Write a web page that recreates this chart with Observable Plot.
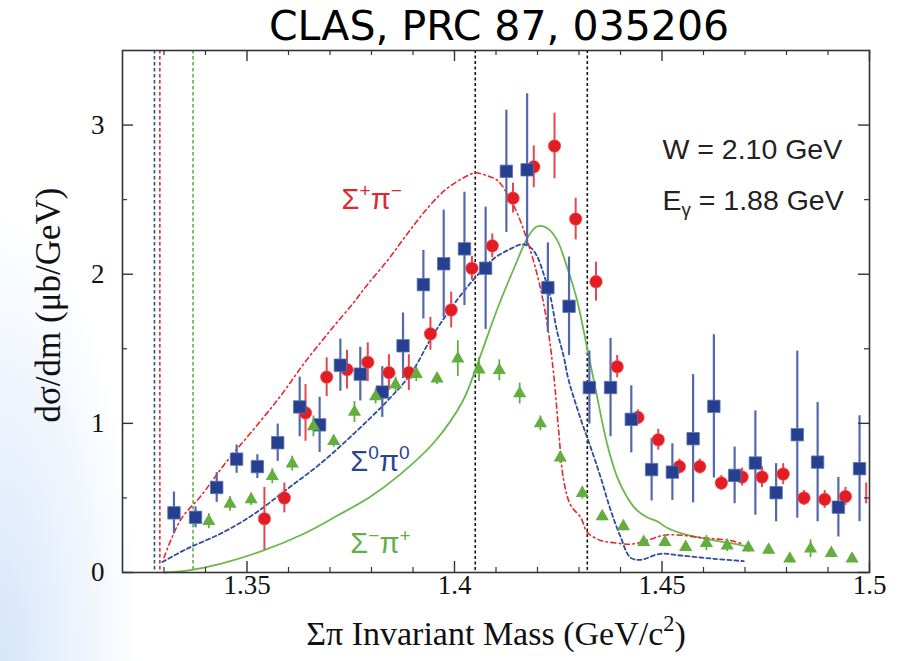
<!DOCTYPE html>
<html>
<head>
<meta charset="utf-8">
<script src="https://cdn.jsdelivr.net/npm/d3@7"></script>
<script src="https://cdn.jsdelivr.net/npm/@observablehq/plot@0.6"></script>
<style>
  html, body { margin: 0; padding: 0; }
  body {
    width: 904px; height: 661px; overflow: hidden;
    background: radial-gradient(ellipse 140px 450px at 0px 661px, #d6e5fa 0%, rgba(255,255,255,0) 100%), #ffffff;
  }
  #chart svg { display: block; }
</style>
</head>
<body>
<div id="chart"></div>
<script>
// ---------- data ----------
const titleText = "CLAS, PRC 87, 035206";
const xLabelText = "Σπ Invariant Mass (GeV/c^{2})";
const yLabelText = "dσ/dm (μb/GeV)";

// Σ+π− (red circles)
const redMass  = [1.3542,1.3590,1.3641,1.3692,1.3741,1.3791,1.3842,1.3890,1.3942,1.3992,1.4042,1.4091,1.4141,1.4191,1.4241,1.4292,1.4341,1.4392,1.4442,1.4491,1.4542,1.4591,1.4643,1.4693,1.4741,1.4792,1.4842,1.4892,1.4942,1.4992];
const redValue = [0.36,0.50,1.07,1.31,1.36,1.41,1.34,1.34,1.60,1.76,2.04,2.19,2.51,2.72,2.86,2.37,1.95,1.38,1.04,0.89,0.71,0.71,0.60,0.64,0.64,0.66,0.50,0.49,0.51,0.53];
const redError = [0.21,0.10,0.19,0.13,0.13,0.13,0.12,0.12,0.11,0.12,0.08,0.08,0.10,0.14,0.22,0.14,0.13,0.075,0.05,0.07,0.05,0.05,0.05,0.06,0.07,0.07,0.05,0.06,0.06,0.07];

// Σ0π0 (blue squares)
const blueMass  = [1.3324,1.3376,1.3427,1.3475,1.3525,1.3574,1.3627,1.3675,1.3725,1.3773,1.3826,1.3876,1.3925,1.3974,1.4024,1.4075,1.4125,1.4175,1.4225,1.4276,1.4325,1.4376,1.4426,1.4475,1.4525,1.4575,1.4625,1.4675,1.4725,1.4775,1.4826,1.4875,1.4925,1.4976];
const blueValue = [0.40,0.37,0.57,0.76,0.71,0.87,1.11,0.99,1.39,1.33,1.21,1.52,1.93,2.07,2.17,2.04,2.69,2.70,1.91,1.785,1.24,1.24,1.027,0.69,0.673,0.897,1.114,0.651,0.734,0.535,0.924,0.74,0.438,0.696];
const blueError = [0.14,0.07,0.10,0.095,0.08,0.125,0.20,0.185,0.175,0.18,0.17,0.22,0.23,0.36,0.38,0.41,0.41,0.51,0.30,0.33,0.245,0.33,0.225,0.21,0.19,0.43,0.48,0.19,0.35,0.195,0.56,0.40,0.20,0.355];

// Σ−π+ (green triangles)
const greenMass  = [1.3408,1.3459,1.3510,1.3561,1.3609,1.3660,1.3709,1.3759,1.3810,1.3858,1.3908,1.3958,1.4008,1.4059,1.4108,1.4157,1.4207,1.4255,1.4308,1.4356,1.4407,1.4456,1.4507,1.4557,1.4607,1.4657,1.4708,1.4757,1.4808,1.4858,1.4908,1.4958];
const greenValue = [0.344,0.46,0.49,0.646,0.73,0.98,0.88,1.076,1.18,1.26,1.33,1.30,1.434,1.36,1.356,1.20,1.00,0.77,0.532,0.376,0.309,0.203,0.203,0.17,0.197,0.18,0.166,0.152,0.092,0.159,0.13,0.092];
const greenError = [0.05,0.05,0.04,0.05,0.05,0.07,0.04,0.07,0.05,0.05,0.05,0.04,0.12,0.08,0.07,0.07,0.05,0.04,0.04,0.03,0.03,0.03,0.03,0.03,0.05,0.04,0.03,0.03,0.02,0.06,0.03,0.02];

// model curves
const redCurveMass  = [1.3300,1.3320,1.3344,1.3388,1.3450,1.3516,1.3580,1.3637,1.3700,1.3757,1.3790,1.3838,1.3886,1.3934,1.3982,1.4031,1.4051,1.4079,1.4103,1.4127,1.4151,1.4175,1.4199,1.4215,1.4227,1.4239,1.4251,1.4263,1.4280,1.4304,1.4320,1.4352,1.4384,1.4424,1.4464,1.4504,1.4545,1.4585,1.4625,1.4665,1.4697];
const redCurveValue = [0.10,0.24,0.37,0.51,0.74,0.96,1.18,1.40,1.62,1.81,1.93,2.09,2.27,2.44,2.575,2.66,2.68,2.66,2.63,2.54,2.41,2.23,2.00,1.80,1.60,1.33,0.95,0.62,0.45,0.37,0.27,0.215,0.20,0.19,0.215,0.25,0.25,0.237,0.226,0.215,0.19];

const blueCurveMass  = [1.3296,1.3356,1.3436,1.3516,1.3597,1.3677,1.3757,1.3838,1.3894,1.3950,1.4007,1.4051,1.4095,1.4135,1.4163,1.4183,1.4199,1.4215,1.4231,1.4247,1.4263,1.4275,1.4304,1.4328,1.4352,1.4376,1.4400,1.4424,1.4448,1.4496,1.4545,1.4625,1.4697];
const blueCurveValue = [0.07,0.16,0.26,0.39,0.56,0.73,0.93,1.15,1.33,1.60,1.83,1.98,2.105,2.17,2.20,2.18,2.12,2.00,1.85,1.62,1.45,1.29,1.03,0.84,0.64,0.42,0.24,0.10,0.085,0.125,0.114,0.092,0.076];

const greenCurveMass  = [1.3300,1.3356,1.3436,1.3540,1.3637,1.3717,1.3798,1.3870,1.3950,1.4020,1.4058,1.4105,1.4145,1.4177,1.4199,1.4223,1.4247,1.4271,1.4295,1.4320,1.4337,1.4368,1.4392,1.4416,1.4440,1.4464,1.4488,1.4512,1.4545,1.4585,1.4625,1.4665,1.4705];
const greenCurveValue = [0.0,0.013,0.058,0.148,0.26,0.38,0.51,0.66,0.87,1.15,1.42,1.78,2.05,2.25,2.32,2.31,2.23,2.05,1.83,1.50,1.27,0.86,0.64,0.505,0.416,0.37,0.344,0.30,0.264,0.237,0.215,0.197,0.175];

// thresholds (Σ0π0, Σ+π−, Σ−π+) and Λ(1405)-region markers
const thresholdMass   = [1.3277, 1.3290, 1.3370];
const thresholdColor  = ["#2f4b9b", "#e3262c", "#5fb042"];
const markerLineMass  = [1.405, 1.432];

// axis ticks
const xMajorTicks = [1.35, 1.4, 1.45, 1.5];
const xMinorTicks = [1.33,1.34,1.36,1.37,1.38,1.39,1.41,1.42,1.43,1.44,1.46,1.47,1.48,1.49];
const yMajorTicks = [0, 1, 2, 3];
const yMinorTicks = [0.5, 1.5, 2.5];

// annotations
const seriesLabelText  = ["Σ^{+}π^{−}", "Σ^{0}π^{0}", "Σ^{−}π^{+}"];
const seriesLabelMass  = [1.3728, 1.3749, 1.3749];
const seriesLabelValue = [2.44, 0.68, 0.128];
const seriesLabelColor = ["#e3262c", "#2b4593", "#62b043"];
const infoText  = ["W = 2.10 GeV", "E_{γ} = 1.88 GeV"];
const infoMass  = [1.4501, 1.4501];
const infoValue = [2.77, 2.43];

// ---------- tables ----------
const red   = redMass.map((m, i) => ({m, v: redValue[i], e: redError[i]}));
const blue  = blueMass.map((m, i) => ({m, v: blueValue[i], e: blueError[i]}));
const green = greenMass.map((m, i) => ({m, v: greenValue[i], e: greenError[i]}));
const redCurve   = redCurveMass.map((m, i) => ({m, v: redCurveValue[i]}));
const blueCurve  = blueCurveMass.map((m, i) => ({m, v: blueCurveValue[i]}));
const greenCurve = greenCurveMass.map((m, i) => ({m, v: greenCurveValue[i]}));
const thresholds = thresholdMass.map((m, i) => ({m, c: thresholdColor[i]}));
const seriesLabels = seriesLabelText.map((t, i) => ({t, m: seriesLabelMass[i], v: seriesLabelValue[i], c: seriesLabelColor[i]}));
const infos = infoText.map((t, i) => ({t, m: infoMass[i], v: infoValue[i]}));

// ---------- layout ----------
const W = 904, H = 661, mT = 50, mR = 35, mB = 89, mL = 122;
const frameH = H - mT - mB, frameW = W - mL - mR;
const majorLen = 11, minorLen = 5;
const serif = "Liberation Serif, Times New Roman, serif";
const sans = "Liberation Sans, Arial, sans-serif";
const axisColor = "#333";

const RED = "#e21d24", RED_BAR = "#e5474c";
const BLUE = "#263f8e", BLUE_BAR = "#5269ad";
const GREEN = "#63ae3f";

const chart = Plot.plot({
  width: W, height: H,
  marginTop: mT, marginRight: mR, marginBottom: mB, marginLeft: mL,
  x: {domain: [1.32, 1.5], axis: null},
  y: {domain: [0, 3.5], axis: null},
  style: {background: "transparent", overflow: "visible"},
  marks: [
    // threshold lines
    Plot.ruleX(thresholds, {x: "m", stroke: "c", strokeWidth: 1.6, strokeDasharray: "3.5,2.5"}),
    Plot.ruleX(markerLineMass, {x: d => d, stroke: "#111", strokeWidth: 1.6, strokeDasharray: "3,2.5"}),
    // curves
    Plot.line(greenCurve, {x: "m", y: "v", stroke: "#6ab74c", strokeWidth: 1.8, curve: "catmull-rom"}),
    Plot.line(blueCurve, {x: "m", y: "v", stroke: "#2f4b9b", strokeWidth: 1.8, strokeDasharray: "4,3", curve: "catmull-rom"}),
    Plot.line(redCurve, {x: "m", y: "v", stroke: "#e8262b", strokeWidth: 1.6, strokeDasharray: "5,3.5,1.5,3.5", curve: "catmull-rom"}),
    // error bars
    Plot.ruleX(red, {x: "m", y1: d => d.v - d.e, y2: d => d.v + d.e, stroke: RED_BAR, strokeWidth: 2}),
    Plot.ruleX(blue, {x: "m", y1: d => d.v - d.e, y2: d => d.v + d.e, stroke: BLUE_BAR, strokeWidth: 2.2}),
    Plot.ruleX(green, {x: "m", y1: d => d.v - d.e, y2: d => d.v + d.e, stroke: GREEN, strokeWidth: 1.8}),
    // markers
    Plot.dot(red.filter(d => d.m < 1.499), {x: "m", y: "v", r: 6.3, fill: RED, stroke: "#ef6a6e", strokeWidth: 0.6}),
    Plot.dot(blue, {x: "m", y: "v", symbol: "square", r: 7, fill: BLUE, stroke: "#5a73b8", strokeWidth: 0.8}),
    Plot.dot(green, {x: "m", y: "v", symbol: "triangle", r: 4.9, fill: GREEN}),
    // frame and ticks
    Plot.frame({stroke: axisColor, strokeWidth: 1.6}),
    Plot.ruleX(xMajorTicks, {x: d => d, insetTop: frameH - majorLen, stroke: axisColor, strokeWidth: 1.4}),
    Plot.ruleX(xMajorTicks, {x: d => d, insetBottom: frameH - majorLen, stroke: axisColor, strokeWidth: 1.4}),
    Plot.ruleX(xMinorTicks, {x: d => d, insetTop: frameH - minorLen, stroke: axisColor, strokeWidth: 1.2}),
    Plot.ruleX(xMinorTicks, {x: d => d, insetBottom: frameH - minorLen, stroke: axisColor, strokeWidth: 1.2}),
    Plot.ruleY(yMajorTicks, {y: d => d, insetRight: frameW - majorLen, stroke: axisColor, strokeWidth: 1.4}),
    Plot.ruleY(yMajorTicks, {y: d => d, insetLeft: frameW - majorLen, stroke: axisColor, strokeWidth: 1.4}),
    Plot.ruleY(yMinorTicks, {y: d => d, insetRight: frameW - minorLen, stroke: axisColor, strokeWidth: 1.2}),
    Plot.ruleY(yMinorTicks, {y: d => d, insetLeft: frameW - minorLen, stroke: axisColor, strokeWidth: 1.2}),
    // tick labels
    Plot.text(xMajorTicks, {x: d => d, text: d => String(d), frameAnchor: "bottom", dy: 21, fontSize: 27, fontFamily: serif, fill: "#111"}),
    Plot.text(yMajorTicks, {y: d => d, text: d => String(d), frameAnchor: "left", textAnchor: "end", dx: -18, fontSize: 27, fontFamily: serif, fill: "#111"}),
    // axis labels
    Plot.text([xLabelText], {text: d => d, frameAnchor: "bottom", dy: 72, fontSize: 34, fontFamily: serif, fill: "#111"}),
    Plot.text([yLabelText], {text: d => d, frameAnchor: "left", rotate: -90, fontSize: 35, fontFamily: serif, fill: "#111", className: "ylabel"}),
    // title
    Plot.text([titleText], {text: d => d, frameAnchor: "top", lineAnchor: "bottom", dy: -11, dx: 3, fontSize: 41, fontFamily: "DejaVu Sans, Verdana, sans-serif", fill: "#000"}),
    // annotations
    Plot.text(seriesLabels, {x: "m", y: "v", text: "t", fill: "c", textAnchor: "start", lineAnchor: "bottom", fontSize: 29, fontFamily: sans}),
    Plot.text(infos, {x: "m", y: "v", text: "t", fill: "#222", textAnchor: "start", lineAnchor: "bottom", fontSize: 28.5, fontFamily: sans})
  ]
});

document.getElementById("chart").appendChild(chart);

// super/subscript markup -> tspans
chart.querySelectorAll("text").forEach(t => {
  const s = t.textContent;
  if (!/[\^_]\{/.test(s)) return;
  const fs = parseFloat(getComputedStyle(t).fontSize) || 20;
  const parts = s.split(/([\^_]\{[^}]*\})/);
  while (t.firstChild) t.removeChild(t.firstChild);
  let shift = 0;
  for (const p of parts) {
    if (!p) continue;
    const ts = document.createElementNS("http://www.w3.org/2000/svg", "tspan");
    let target = 0, content = p;
    if (/^[\^_]\{/.test(p)) {
      content = p.slice(2, -1);
      target = p[0] === "^" ? -0.4 * fs : 0.22 * fs;
      ts.setAttribute("font-size", (0.66 * fs).toFixed(1));
    }
    const d = target - shift;
    if (d !== 0) ts.setAttribute("dy", d.toFixed(2));
    shift = target;
    ts.textContent = content;
    t.appendChild(ts);
  }
});

// place the rotated y-axis title: centred on the frame, left of the tick labels
(function placeYLabel() {
  const g = chart.querySelector("g.ylabel") || chart.querySelector(".ylabel");
  if (!g) return;
  const svgBox = chart.getBoundingClientRect();
  const b = g.getBoundingClientRect();
  const cx = b.left - svgBox.left + b.width / 2;
  const cy = b.top - svgBox.top + b.height / 2;
  const targetX = mL - 74, targetY = mT + frameH / 2 - 6;
  const prev = g.getAttribute("transform") || "";
  g.setAttribute("transform", `translate(${(targetX - cx).toFixed(1)},${(targetY - cy).toFixed(1)}) ${prev}`);
})();
</script>
</body>
</html>
